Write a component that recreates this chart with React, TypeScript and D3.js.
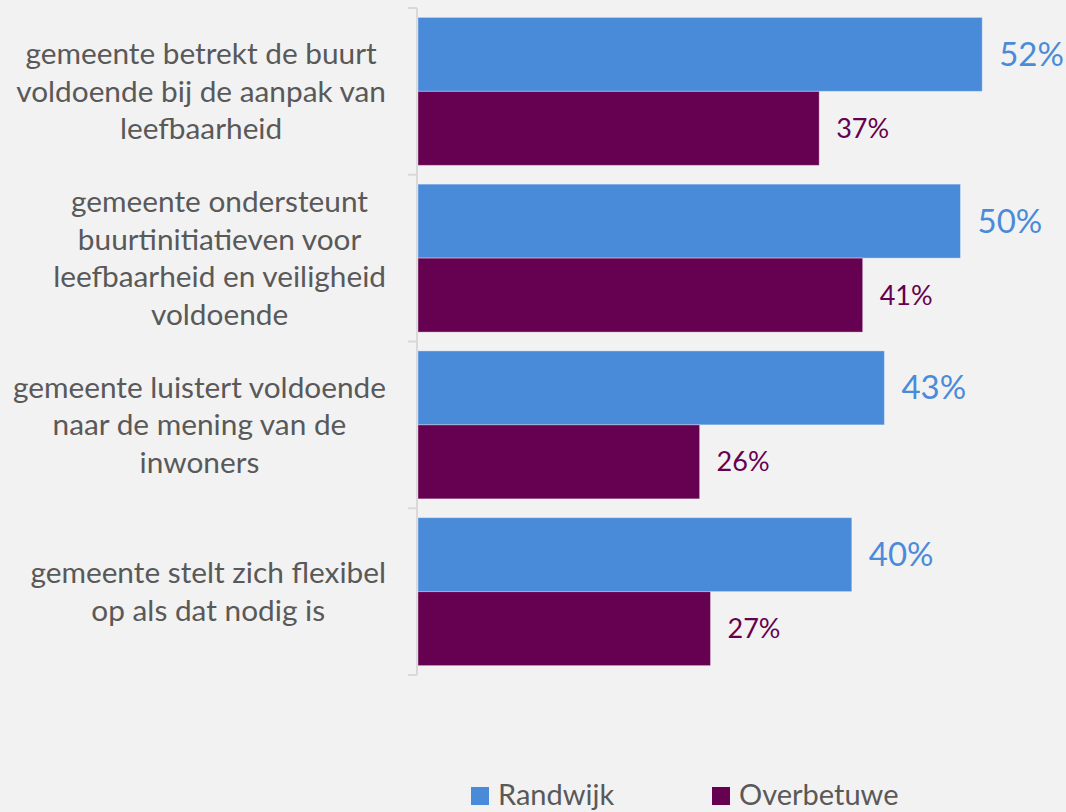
import React, { useEffect, useRef } from "react";
import * as d3 from "d3";

// category labels, split as in the chart
const categories = [
  ["gemeente betrekt de buurt", "voldoende bij de aanpak van", "leefbaarheid"],
  ["gemeente ondersteunt", "buurtinitiatieven voor", "leefbaarheid en veiligheid", "voldoende"],
  ["gemeente luistert voldoende", "naar de mening van de", "inwoners"],
  ["gemeente stelt zich flexibel", "op als dat nodig is"],
];
const series = ["Randwijk", "Overbetuwe"];
const randwijk = [52, 50, 43, 40];
const overbetuwe = [37, 41, 26, 27];

const colors = { Randwijk: "#4a8bd9", Overbetuwe: "#660050" };
const font = "Lato, 'Open Sans', sans-serif";

export default function App() {
  const ref = useRef(null);

  useEffect(() => {
    const W = 1066, H = 812;
    const svg = d3.select(ref.current);
    svg.selectAll("*").remove();

    svg.append("rect").attr("width", W).attr("height", H).attr("fill", "#f2f2f2");

    const ids = categories.map((c, i) => "c" + i);
    const y = d3.scaleBand().domain(ids).range([8, 675]).padding(0);
    const y1 = d3.scaleBand().domain(series).range([0, y.bandwidth()]).paddingInner(0).paddingOuter(0.127);
    const x = d3.scaleLinear().domain([0, 100]).range([417, 417 + 1087]);

    const rows = categories.map((lines, i) => ({
      id: ids[i],
      lines,
      Randwijk: randwijk[i],
      Overbetuwe: overbetuwe[i],
    }));

    // axis line with ticks
    const axis = svg.append("g").attr("transform", `translate(${x(0)},0)`);
    axis.append("line").attr("x1", 0).attr("x2", 0).attr("y1", y.range()[0]).attr("y2", y.range()[1])
      .attr("stroke", "#d9d9d9").attr("stroke-width", 2);
    const tickYs = ids.map((id) => y(id)).concat([y.range()[1]]);
    axis.selectAll(".tk").data(tickYs).join("line").attr("class", "tk")
      .attr("x1", -9).attr("x2", 0).attr("y1", (d) => d).attr("y2", (d) => d)
      .attr("stroke", "#d9d9d9").attr("stroke-width", 2);

    // bars
    const groups = svg.selectAll(".grp").data(rows).join("g").attr("class", "grp")
      .attr("transform", (d) => `translate(0,${y(d.id)})`);

    series.forEach((s) => {
      groups.append("rect")
        .attr("x", x(0) + 1)
        .attr("y", y1(s))
        .attr("width", (d) => x(d[s]) - x(0) - 1)
        .attr("height", y1.bandwidth())
        .attr("fill", colors[s])
        .attr("stroke", "rgba(255,255,255,0.35)")
        .attr("stroke-width", 1);

      groups.append("text")
        .attr("x", (d) => x(d[s]) + 17)
        .attr("y", y1(s) + y1.bandwidth() / 2)
        .attr("dy", "0.35em")
        .attr("fill", colors[s])
        .style("font-family", font)
        .style("font-size", s === "Randwijk" ? "33px" : "27px")
        .text((d) => d[s] + "%");
    });

    // category labels (centred blocks, right edge at 386)
    const lh = 37.5;
    groups.each(function (d) {
      const g = d3.select(this);
      const t = g.append("text")
        .attr("fill", "#595959")
        .style("font-family", font)
        .style("font-size", "29.8px")
        .attr("text-anchor", "middle");
      const n = d.lines.length;
      const cy = y.bandwidth() / 2;
      t.selectAll("tspan").data(d.lines).join("tspan")
        .attr("y", (l, i) => cy + (i - (n - 1) / 2) * lh)
        .attr("dy", "0.35em")
        .text((l) => l);
      let maxW = 0;
      t.selectAll("tspan").each(function () {
        maxW = Math.max(maxW, this.getComputedTextLength());
      });
      t.selectAll("tspan").attr("x", 386 - maxW / 2);
    });

    // legend
    const legendX = { Randwijk: 471, Overbetuwe: 712 };
    series.forEach((s) => {
      const lg = svg.append("g").attr("transform", `translate(${legendX[s]},787)`);
      lg.append("rect").attr("width", 18).attr("height", 18).attr("fill", colors[s]);
      lg.append("text").attr("x", 27).attr("y", 18)
        .attr("fill", "#595959")
        .style("font-family", font)
        .style("font-size", "29px")
        .text(s);
    });
  }, []);

  return (
    <div style={{ position: "absolute", left: 0, top: 0 }}>
      <svg ref={ref} width={1066} height={812} style={{ display: "block" }} />
    </div>
  );
}
